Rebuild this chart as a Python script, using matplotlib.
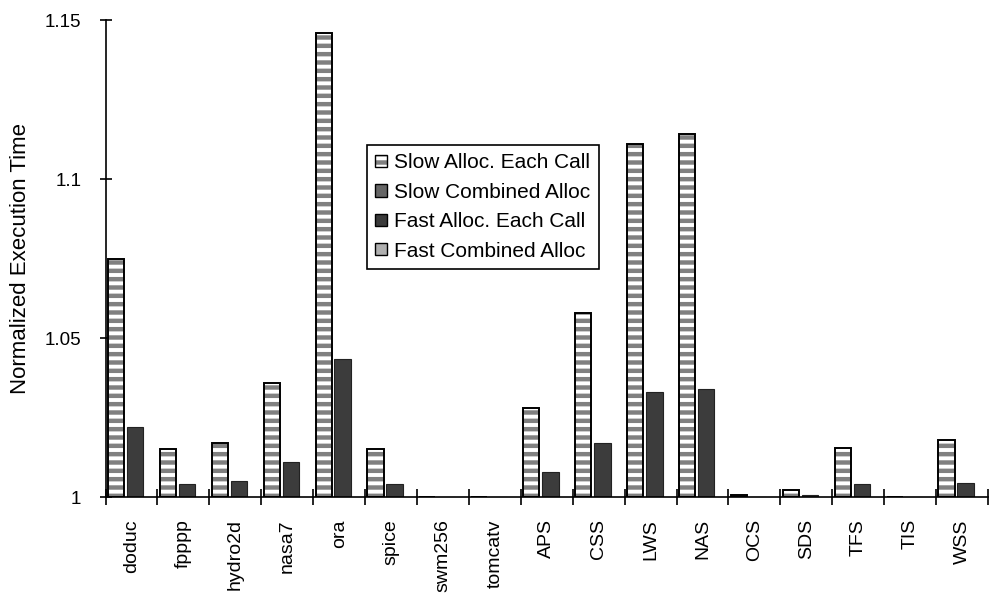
import matplotlib
matplotlib.use("Agg")
import matplotlib.pyplot as plt
from matplotlib.patches import Patch
from matplotlib.legend_handler import HandlerTuple
import numpy as np

plt.rcParams["font.family"] = ["Liberation Sans", "DejaVu Sans"]
plt.rcParams["hatch.linewidth"] = 3.2

benchmarks = ["doduc", "fpppp", "hydro2d", "nasa7", "ora", "spice", "swm256",
              "tomcatv", "APS", "CSS", "LWS", "NAS", "OCS", "SDS", "TFS", "TIS", "WSS"]

slow_each_call = [1.075, 1.015, 1.017, 1.036, 1.146, 1.015, 1.0, 1.0, 1.028,
                  1.058, 1.111, 1.114, 1.0005, 1.0022, 1.0155, 1.0, 1.018]
slow_combined = [1.022, 1.004, 1.005, 1.011, 1.0435, 1.004, 1.0, 1.0, 1.008,
                 1.017, 1.033, 1.034, 1.0, 1.0005, 1.004, 1.0, 1.0045]
fast_each_call = [1.0] * 17
fast_combined = [1.0] * 17

labels = ["Slow Alloc. Each Call", "Slow Combined Alloc",
          "Fast Alloc. Each Call", "Fast Combined Alloc"]

x = np.arange(len(benchmarks))
base = 1.0

fig = plt.figure(figsize=(9.89, 6.01), dpi=100)
ax = fig.add_axes([0.1067, 0.173, 0.8923, 0.7937])

# fast series sit at 1.0, i.e. zero height
ax.bar(x + 0.07, np.array(fast_combined) - base, 0.32, bottom=base,
       color="#b5b5b5", linewidth=0, zorder=1)
ax.bar(x + 0.07, np.array(fast_each_call) - base, 0.32, bottom=base,
       color="#333333", linewidth=0, zorder=1)

# striped bars: hatch first, then black outline on top
ax.bar(x - 0.3, np.array(slow_each_call) - base, 0.31, bottom=base,
       color="white", edgecolor="#808080", hatch="--", linewidth=0, zorder=2)
ax.bar(x - 0.3, np.array(slow_each_call) - base, 0.31, bottom=base,
       fill=False, edgecolor="black", linewidth=1.4, zorder=3)

ax.bar(x + 0.07, np.array(slow_combined) - base, 0.32, bottom=base,
       color="#3c3c3c", edgecolor="#222222", linewidth=0.8, zorder=2)

ax.set_xlim(-0.5, len(benchmarks) - 0.5)
ax.set_ylim(1.0, 1.15)

ax.spines["top"].set_visible(False)
ax.spines["right"].set_visible(False)
ax.spines["left"].set_linewidth(1.2)
ax.spines["bottom"].set_linewidth(1.2)
ax.spines["left"].set_zorder(4)
ax.spines["bottom"].set_zorder(4)

ax.set_yticks([1.0, 1.05, 1.1, 1.15])
ax.set_yticklabels(["1", "1.05", "1.1", "1.15"])
ax.tick_params(axis="y", direction="inout", length=9, width=1.2,
               labelsize=13.5, pad=13)

ax.set_xticks(x)
ax.set_xticklabels(benchmarks, rotation=90, fontsize=14)
ax.set_xticks(np.arange(len(benchmarks) + 1) - 0.5, minor=True)
ax.tick_params(axis="x", which="major", length=0, pad=16)
ax.tick_params(axis="x", which="minor", direction="inout", length=12, width=1.2)

ax.set_ylabel("Normalized Execution Time", fontsize=16, labelpad=10)

handles = [
    (Patch(facecolor="white", edgecolor="#808080", hatch="--", linewidth=0),
     Patch(fill=False, edgecolor="black", linewidth=1)),
    Patch(facecolor="#666666", edgecolor="black", linewidth=1),
    Patch(facecolor="#3a3a3a", edgecolor="black", linewidth=1),
    Patch(facecolor="#b0b0b0", edgecolor="black", linewidth=1),
]
leg = fig.legend(handles, labels, loc="upper left",
                 bbox_to_anchor=(367 / 989, 1 - 145 / 601),
                 fontsize=15, frameon=True, fancybox=False, framealpha=1,
                 edgecolor="black", borderaxespad=0, borderpad=0.4,
                 handlelength=0.55, handleheight=0.55, handletextpad=0.35,
                 labelspacing=0.5,
                 handler_map={tuple: HandlerTuple(ndivide=1)})
leg.get_frame().set_linewidth(1.2)

fig.savefig("out.png", dpi=100)
